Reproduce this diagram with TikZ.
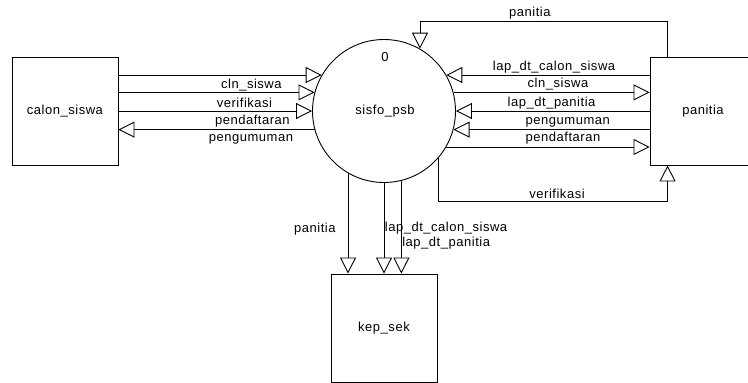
\documentclass[tikz,border=0pt]{standalone}
\usepackage{fontspec}
\setmainfont{Liberation Sans}[LetterSpace=4]
\usetikzlibrary{arrows.meta}
\begin{document}
\begin{tikzpicture}[x=1pt, y=1pt, line width=0.9pt,
  font=\fontsize{13}{15}\selectfont,
  ent/.style={draw, minimum width=106pt, minimum height=108pt, inner sep=0pt},
  proc/.style={draw, circle, minimum size=143pt, inner sep=0pt},
  flow/.style={-{Triangle[open, length=16pt, width=16pt]}},
  lbl/.style={inner sep=0pt}]
\useasboundingbox (0,0) rectangle (748,-383);

% process and external entities
\node[proc] (sis) at (384,-111) {};
\node[lbl] (sisname) at (385,-110.7) {sisfo\_psb};
\node[lbl] (sisnum) at (385,-56.7) {0};
\node[ent] (cs) at (65,-111.5) {calon\_siswa};
\node[ent] (pan) at (703,-111) {panitia};
\node[ent] (ks) at (384,-328) {kep\_sek};

% helper points for the routed flows
\coordinate (toptap) at ([xshift=18pt]pan.north west);
\coordinate (bottap) at ([xshift=18pt]pan.south west);
\coordinate (topy) at (0,-21);
\coordinate (boty) at (0,-201.7);

% calon_siswa <-> sisfo_psb
\draw[flow] (sis.150 -| cs.east) -- node[lbl, pos=0.654, yshift=-10pt] {cln\_siswa} (sis.150);
\draw[flow] (sis.165 -| cs.east) -- node[lbl, pos=0.643, yshift=-10pt] {verifikasi} (sis.165);
\draw[flow] (sis.180 -| cs.east) -- node[lbl, pos=0.692, yshift=-10pt] {pendaftaran} (sis.180);
\draw[flow] (sis.195) -- node[lbl, pos=0.324, yshift=-10pt] {pengumuman} (sis.195 -| cs.east);

% panitia <-> sisfo_psb
\draw[flow] (sis.30 -| pan.west) -- node[lbl, pos=0.470, yshift=7.5pt] {lap\_dt\_calon\_siswa} (sis.30);
\draw[flow] (sis.15) -- node[lbl, pos=0.533, yshift=8pt] {cln\_siswa} (sis.15 -| pan.west);
\draw[flow] (sis.0 -| pan.west) -- node[lbl, pos=0.506, yshift=8pt] {lap\_dt\_panitia} (sis.0);
\draw[flow] (sis.-15 -| pan.west) -- node[lbl, pos=0.417, yshift=7.5pt] {pengumuman} (sis.-15);
\draw[flow] (sis.-30) -- node[lbl, pos=0.574, yshift=8.5pt] {pendaftaran} (sis.-30 -| pan.west);

% routed loops above and below
\draw[flow] (toptap) -- (toptap |- topy) -- node[lbl, pos=0.556, yshift=8.3pt] {panitia} (sis.60 |- topy) -- (sis.60);
\draw[flow] (sis.319) -- (sis.319 |- boty) -- node[lbl, pos=0.518, yshift=7.7pt] {verifikasi} (bottap |- boty) -- (bottap);

% sisfo_psb -> kep_sek
\draw[flow] (sis.240) -- node[lbl, pos=0.555, anchor=east, xshift=-12pt] {panitia} (sis.240 |- ks.north);
\draw[flow] (sis.270) -- node[lbl, pos=0.5, anchor=west, xshift=0.5pt] {lap\_dt\_calon\_siswa} (sis.270 |- ks.north);
\draw[flow] (sis.284) -- node[lbl, pos=0.672, anchor=west, xshift=0.5pt] {lap\_dt\_panitia} (sis.284 |- ks.north);
\end{tikzpicture}
\end{document}
